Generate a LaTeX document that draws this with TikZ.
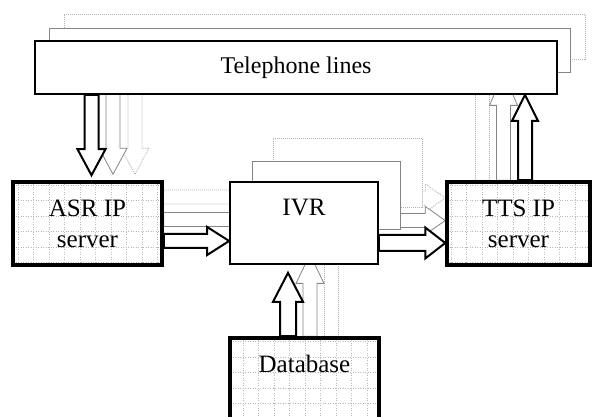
\documentclass[tikz,border=0pt]{standalone}
\usepackage{fontspec}
\setmainfont{Liberation Serif}
\usetikzlibrary{calc}
\pgfdeclarelayer{dots}
\pgfdeclarelayer{grays}
\pgfdeclarelayer{arrs}
\pgfsetlayers{dots,grays,arrs,main}
\newcommand\lblfont{\fontsize{25}{31}\selectfont}

\begin{document}
\begin{tikzpicture}
  [x=1pt,y=1pt,
   shaftw/.store in=\shaftw, headw/.store in=\headw, headl/.store in=\headl,
   shaftw=7pt, headw=14pt, headl=26pt,
   blk/.style={to path={let \p1=(\tikztostart), \p2=(\tikztotarget),
       \n1={atan2(\y2-\y1,\x2-\x1)}, \n2={veclen(\x2-\x1,\y2-\y1)},
       \n3={atan2(\headw,\headl)}, \n4={veclen(\headw,\headl)} in
       ($(\p1)+(\n1+90:\shaftw)$) -- ++(\n1:\n2-\headl) -- ++(\n1+90:\headw-\shaftw)
       -- (\p2) -- ++(\n1+180+\n3:\n4) -- ++(\n1+90:\headw-\shaftw)
       -- ++(\n1+180:\n2-\headl) -- cycle}},
   box/.style={draw, fill=white, line width=1.7pt, inner sep=0pt, align=center, font=\lblfont},
   gridln/.style={draw=black!28, line width=.6pt, dash pattern=on .9pt off 1.6pt},
   srv/.style={box, line width=3.5pt, path picture={
       \draw[gridln] (path picture bounding box.south west) grid[step=15.5] (path picture bounding box.north east);}},
   ghost/.style={draw=black!48, fill=white, line width=.8pt},
   faint/.style={draw=black!30, fill=white, line width=.8pt, dash pattern=on 1pt off 1pt},
   mainarr/.style={blk, draw=black, fill=white, line width=2pt},
   grayarr/.style={blk, ghost},
   dotarr/.style={blk, faint}]
  \useasboundingbox (0,0) rectangle (592,417);

  % front boxes
  \node[box, minimum width=522, minimum height=53, font=\fontsize{24}{29}\selectfont] (phone) at (296,349.5) {Telephone lines};
  \node[srv, minimum width=149, minimum height=83] (asr) at (87.5,193.5) {ASR IP\\server};
  \node[box, minimum width=148, minimum height=82] (ivr) at (304,194) {IVR\\\mbox{}};
  \node[srv, minimum width=143, minimum height=83] (tts) at (518.5,193.5) {TTS IP\\server};
  \node[srv, minimum width=149, minimum height=83] (db) at (304.5,37.5) {Database\\\mbox{}};

  % third copy, furthest back
  \begin{pgfonlayer}{dots}
    \node[faint, minimum width=521, minimum height=45] (phone3) at (324.5,380.5) {};
    \node[faint, minimum width=149, minimum height=69] (ivr3) at (347.5,244.5) {};
    \draw[dotarr] ($(asr.north |- phone3.south)+(47.5,0)$) to ($(asr.north)+(47.5,6)$);
    \draw[dotarr, headl=22pt] ($(asr.east)+(0,26.5)$) to ($(ivr3.west)+(0,-24.5)$);
    \draw[dotarr, headl=20pt] ($(ivr3.east)+(0,-25.5)$) to ($(tts.west)+(0,25.5)$);
    \draw[dotarr, headl=33pt] ($(tts.north)+(-36,0)$) to ($(tts.north |- phone3.south)+(-36,0)$);
    \draw[dotarr, headl=29pt] ($(db.north)+(27,0)$) to ($(ivr3.south)+(-16,-25)$);
  \end{pgfonlayer}

  % second copy
  \begin{pgfonlayer}{grays}
    \node[ghost, minimum width=521, minimum height=44] (phone2) at (309.5,367) {};
    \node[ghost, minimum width=148, minimum height=68] (ivr2) at (326,222) {};
    \draw[grayarr] ($(asr.north |- phone2.south)+(25.5,0)$) to ($(asr.north)+(25.5,6)$);
    \draw[grayarr, headl=22pt] ($(asr.east)+(0,4)$) to ($(ivr2.west)+(0,-24.5)$);
    \draw[grayarr, headl=20pt] ($(ivr2.east)+(0,-25.5)$) to ($(tts.west)+(0,3)$);
    \draw[grayarr, headl=33pt] ($(tts.north)+(-15,0)$) to ($(tts.north |- phone2.south)+(-15,0)$);
    \draw[grayarr, headl=29pt] ($(db.north)+(5.5,0)$) to ($(ivr2.south)+(-16,-25)$);
  \end{pgfonlayer}

  % front arrows
  \begin{pgfonlayer}{arrs}
    \draw[mainarr] ($(asr.north |- phone.south)+(4,0)$) to ($(asr.north)+(4,5)$);
    \draw[mainarr, headl=22pt] ($(asr.east)+(0,-17.5)$) to ($(ivr.west)+(0,-18)$);
    \draw[mainarr, headl=20pt, shaftw=8pt, headw=15.5pt] ($(ivr.east)+(0,-20)$) to ($(tts.west)+(0,-19.5)$);
    \draw[mainarr, headw=13pt] ($(tts.north)+(6.5,0)$) to ($(tts.north |- phone.south)+(6.5,0)$);
    \draw[mainarr, headl=29pt, shaftw=8pt, headw=15pt] ($(db.north)+(-16.5,0)$) to ($(ivr.south)+(-16,-8)$);
  \end{pgfonlayer}
\end{tikzpicture}
\end{document}
